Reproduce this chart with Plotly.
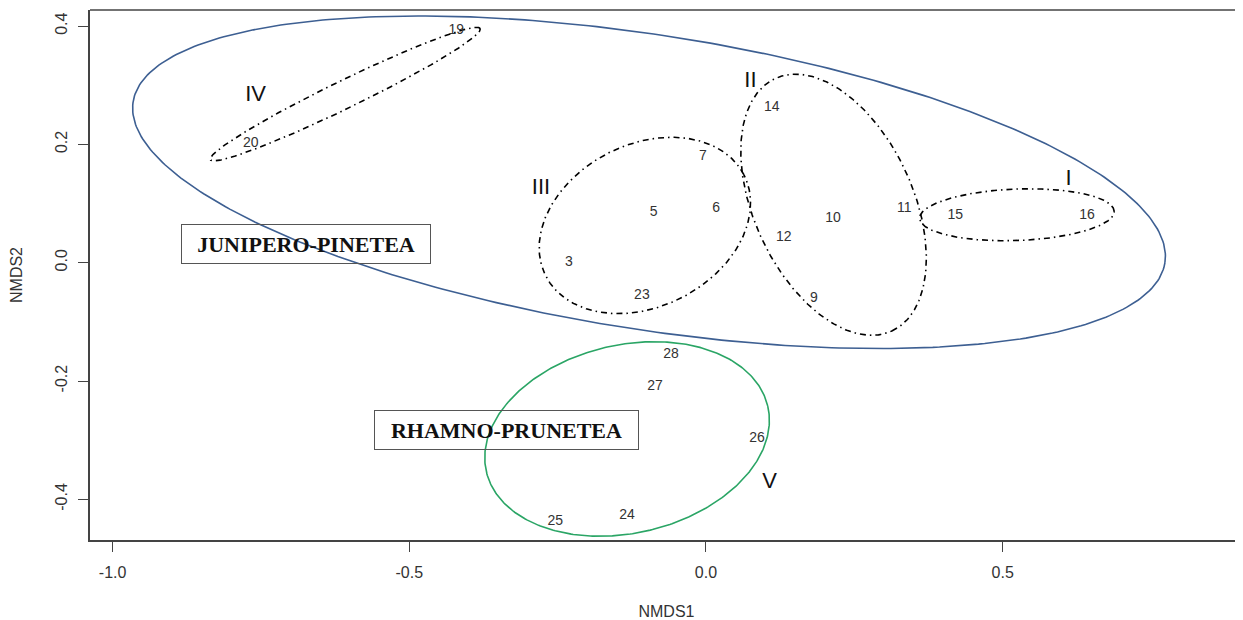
import numpy as np
import plotly.graph_objects as go

# ---- site scores (NMDS axes) ----
sites = ["19", "20", "14", "7", "5", "6", "3", "23", "12", "10", "9", "11",
         "15", "16", "28", "27", "26", "25", "24"]
nmds1 = [-0.421, -0.767, 0.111, -0.005, -0.088, 0.017, -0.231, -0.108, 0.131,
         0.214, 0.182, 0.334, 0.420, 0.642, -0.059, -0.086, 0.086, -0.254, -0.133]
nmds2 = [0.392, 0.202, 0.262, 0.180, 0.085, 0.092, 0.001, -0.055, 0.043,
         0.074, -0.060, 0.092, 0.079, 0.079, -0.156, -0.209, -0.298, -0.438, -0.428]

# ---- ellipses: centre x, centre y, semi-major, semi-minor, angle (deg) ----
ell_names = ["JUNIPERO-PINETEA", "RHAMNO-PRUNETEA", "I", "II", "III", "IV"]
ell_cx = [-0.096, -0.133, 0.524, 0.215, -0.103, -0.608]
ell_cy = [0.136, -0.298, 0.081, 0.098, 0.063, 0.285]
ell_a = [0.880, 0.2435, 0.164, 0.235, 0.1876, 0.253]
ell_b = [0.249, 0.159, 0.0436, 0.134, 0.137, 0.0236]
ell_ang = [-8.9, 13.2, 2.1, -65.3, 27.3, 26.0]
ell_color = ["#3d5f92", "#2aa565", "black", "black", "black", "black"]
ell_dash = ["solid", "solid", "6px,4px,1.5px,4px", "6px,4px,1.5px,4px",
            "6px,4px,1.5px,4px", "6px,4px,1.5px,4px"]

# ---- group labels ----
grp_labels = ["I", "II", "III", "IV", "V"]
grp_x = [0.611, 0.075, -0.278, -0.759, 0.107]
grp_y = [0.141, 0.307, 0.126, 0.283, -0.372]

# ---- class boxes ----
cls_labels = ["JUNIPERO-PINETEA", "RHAMNO-PRUNETEA"]
cls_x = [-0.674, -0.336]
cls_y = [0.0316, -0.282]
cls_w = [244, 259]

fig = go.Figure()

t = np.linspace(0, 2 * np.pi, 400)
for i in range(len(ell_names)):
    th = np.deg2rad(ell_ang[i])
    ex = ell_cx[i] + ell_a[i] * np.cos(t) * np.cos(th) - ell_b[i] * np.sin(t) * np.sin(th)
    ey = ell_cy[i] + ell_a[i] * np.cos(t) * np.sin(th) + ell_b[i] * np.sin(t) * np.cos(th)
    fig.add_trace(go.Scatter(x=ex, y=ey, mode="lines",
                             line=dict(color=ell_color[i], width=1.6, dash=ell_dash[i]),
                             hoverinfo="skip", showlegend=False))

fig.add_trace(go.Scatter(x=nmds1, y=nmds2, mode="text", text=sites,
                         textposition="middle center",
                         textfont=dict(family="Arial, Liberation Sans", size=14, color="#333333"),
                         showlegend=False))

fig.add_trace(go.Scatter(x=grp_x, y=grp_y, mode="text", text=grp_labels,
                         textposition="middle center",
                         textfont=dict(family="Arial, Liberation Sans", size=22, color="#111111"),
                         showlegend=False))

for lab, x, y, w in zip(cls_labels, cls_x, cls_y, cls_w):
    fig.add_annotation(x=x, y=y, xref="x", yref="y", text="<b>" + lab + "</b>", showarrow=False,
                       font=dict(family="Liberation Serif, Times New Roman", size=22, color="#111111"),
                       bordercolor="#555555", borderwidth=1, borderpad=2,
                       width=w, height=34, bgcolor="rgba(0,0,0,0)")

# top frame line
fig.add_shape(type="line", xref="paper", yref="paper", x0=0, x1=1, y0=1, y1=1,
              line=dict(color="#444444", width=1.5))

axis_font = dict(family="Arial, Liberation Sans", size=16, color="#333333")
fig.update_xaxes(range=[-1.0381, 0.9050], tickvals=[-1.0, -0.5, 0.0, 0.5],
                 ticktext=["-1.0", "-0.5", "0.0", "0.5"],
                 ticks="outside", ticklen=10, tickcolor="#444444", tickwidth=1.2,
                 ticklabelstandoff=7,
                 showline=True, linecolor="#444444", linewidth=1.5,
                 showgrid=False, zeroline=False, tickfont=axis_font,
                 title=dict(text="NMDS1", font=axis_font, standoff=28))
fig.update_yaxes(range=[-0.4688, 0.4272], tickvals=[-0.4, -0.2, 0.0, 0.2, 0.4],
                 ticktext=["-0.4", "-0.2", "0.0", "0.2", "0.4"], tickangle=-90,
                 ticks="outside", ticklen=10, tickcolor="#444444", tickwidth=1.2,
                 ticklabelstandoff=5,
                 showline=True, linecolor="#444444", linewidth=1.5,
                 showgrid=False, zeroline=False, tickfont=axis_font,
                 title=dict(text="NMDS2", font=axis_font, standoff=28))

fig.update_layout(width=1235, height=612, margin=dict(l=82, r=0, t=2, b=72),
                  plot_bgcolor="white", paper_bgcolor="white", showlegend=False)

fig.write_html("out.html")
